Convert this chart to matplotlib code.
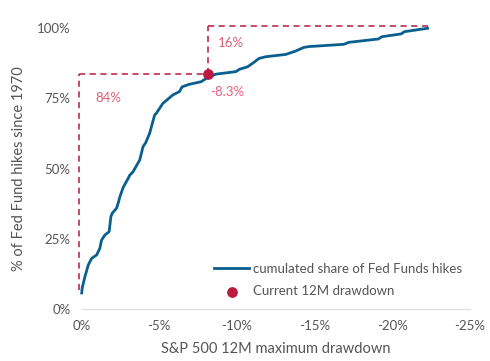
import matplotlib
matplotlib.use("Agg")
import matplotlib.pyplot as plt
from matplotlib.ticker import FuncFormatter

plt.rcParams['font.family'] = ['Lato', 'DejaVu Sans']

# S&P 500 12M maximum drawdown (%) vs cumulated share of Fed Funds hikes (%)
drawdown = [0.0, -0.04, -0.21, -0.42, -0.64, -0.96, -1.17, -1.28, -1.49, -1.77,
            -1.88, -1.96, -2.24, -2.35, -2.46, -2.67, -2.99, -3.10, -3.31, -3.74,
            -3.95, -4.12, -4.38, -4.70, -4.81, -5.23, -5.87, -6.30, -6.47, -6.94,
            -7.69, -8.18, -8.65, -9.94, -10.15, -10.68, -11.0, -11.43, -11.86,
            -13.14, -13.78, -14.31, -14.63, -16.88, -17.2, -19.12, -19.33, -20.58,
            -20.79, -22.28]
share = [5.8, 7.8, 11.6, 15.7, 18.1, 19.3, 21.7, 24.6, 26.4, 27.6,
         32.9, 34.1, 35.9, 37.7, 40.0, 43.3, 46.5, 47.7, 48.9, 53.1,
         57.8, 59.2, 62.6, 69.1, 69.7, 73.2, 76.2, 77.4, 79.1, 80.0,
         80.9, 82.6, 83.6, 84.5, 85.3, 86.2, 87.4, 89.2, 89.8,
         90.6, 91.8, 93.1, 93.4, 94.2, 94.9, 96.1, 96.9, 97.9,
         98.7, 99.9]

current_dd = -8.15
current_share = 83.5
label_below = "84%"
label_above = "16%"
label_current = "-8.3%"
xticks = [0, -5, -10, -15, -20, -25]
yticks = [0, 25, 50, 75, 100]

blue = "#0b5f8e"
red = "#b81a40"
pink = "#d9607c"
gray = "#555555"

fig = plt.figure(figsize=(4.9, 3.61), dpi=100)
ax = fig.add_axes([0.1667, 0.1432, 0.792, 0.7792])

ax.plot(drawdown, share, color=blue, lw=2.0, label="cumulated share of Fed Funds hikes",
        zorder=3, clip_on=False, solid_joinstyle="round")

# dashed guides
dash = dict(color=red, lw=1.1, ls=(0, (4, 3)), clip_on=False, zorder=2)
ax.plot([0.2, 0.2], [6.8, current_share], **dash)
ax.plot([0.2, current_dd], [current_share, current_share], **dash)
ax.plot([current_dd, current_dd], [current_share, 100.8], **dash)
ax.plot([current_dd, -22.35], [100.8, 100.8], **dash)

ax.scatter([current_dd], [current_share], s=45, color=red, zorder=4,
           label="Current 12M drawdown", clip_on=False)

ax.text(-1.7, 75, label_below, color=pink, fontsize=9.5, ha="center", va="center")
ax.text(-9.6, 94.6, label_above, color=pink, fontsize=9.5, ha="center", va="center")
ax.text(-9.4, 77.4, label_current, color="#ee5f80", fontsize=9.5, ha="center", va="center")

ax.set_xlim(0, -25)
ax.set_ylim(0, 100)
ax.set_xticks(xticks)
ax.set_yticks(yticks)
ax.xaxis.set_major_formatter(FuncFormatter(lambda v, p: f"{v:.0f}%".replace("-0%", "0%")))
ax.yaxis.set_major_formatter(FuncFormatter(lambda v, p: f"{v:.0f}%"))
ax.tick_params(length=0, labelsize=9.5, colors=gray, pad=8)

for s in ["top", "right", "left"]:
    ax.spines[s].set_visible(False)
ax.spines["bottom"].set_color("#e3e3e3")
ax.spines["bottom"].set_linewidth(1)

ax.set_xlabel("S&P 500 12M maximum drawdown", fontsize=10.5, color=gray, labelpad=7)
ax.set_ylabel("% of Fed Fund hikes since 1970", fontsize=10.5, color=gray, labelpad=8)

leg = ax.legend(loc="lower right", bbox_to_anchor=(1.01, 0.0), frameon=False,
                fontsize=9.5, handlelength=2.6, handletextpad=0.3, labelspacing=0.8,
                labelcolor=gray)

fig.savefig("out.png", dpi=100)
